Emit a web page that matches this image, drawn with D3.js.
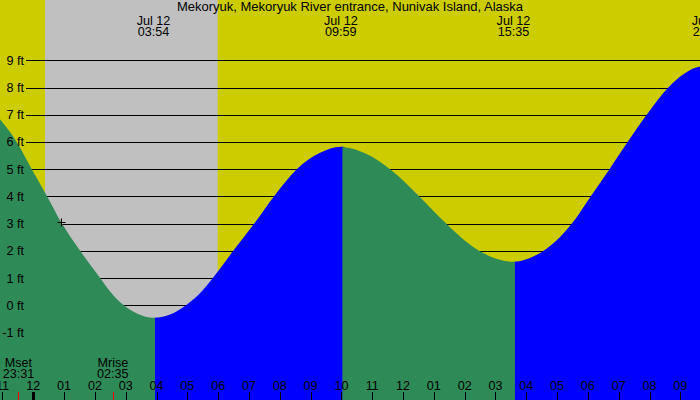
<!DOCTYPE html>
<html>
<head>
<meta charset="utf-8">
<script src="https://cdn.jsdelivr.net/npm/d3@7"></script>
<style>
  body { margin: 0; background: #fff; }
  svg text { font-family: "Liberation Sans", Arial, sans-serif; font-size: 12.6px; fill: #000; }
  svg text.title { font-size: 13px; }
</style>
</head>
<body>
<svg id="chart" width="700" height="400"></svg>
<script>
"use strict";

// tide curve (hours after midnight Jul 12, feet)
const tideHours = [-1.08, -0.54, -0.05, 0.45, 0.93, 1.52, 2.14, 2.5, 2.94, 3.4, 3.90,
  4.42, 4.98, 5.5, 5.79, 6.49, 7.17, 7.81, 8.55, 9.31, 9.98,
  10.8, 11.58, 12.53, 13.40, 14.0, 14.47, 15.0, 15.58,
  16.1, 16.61, 17.09, 17.48, 18.09, 18.70, 19.29, 19.91, 20.61, 21.64, 21.92];
const tideFeet = [6.83, 6.0, 5.0, 4.0, 3.0, 2.0, 1.05, 0.5, 0.0, -0.32, -0.46,
  -0.35, 0.02, 0.55, 0.95, 2.0, 3.0, 4.0, 5.0, 5.6, 5.82,
  5.57, 5.0, 4.0, 3.0, 2.38, 2.0, 1.72, 1.6,
  1.73, 2.04, 2.5, 3.0, 4.0, 5.0, 6.0, 7.0, 8.0, 8.77, 8.8];

// highs and lows
const extremeHours = [3.9, 9.983, 15.583, 21.917];
const extremeTimes = ["03:54", "09:59", "15:35", "21:55"];
const extremeDates = ["Jul 12", "Jul 12", "Jul 12", "Jul 12"];

// night (sunset -> sunrise)
const nightStart = 0.38, nightEnd = 5.985;

// moon
const moonHours = [-0.483, 2.583];
const moonNames = ["Mset", "Mrise"];
const moonTimes = ["23:31", "02:35"];

const feetTicks = [-1, 0, 1, 2, 3, 4, 5, 6, 7, 8, 9];
const hourTicks = d3.range(-1, 22);

// current position marker
const nowHour = 0.9, nowFeet = 3.06;

const title = "Mekoryuk, Mekoryuk River entrance, Nunivak Island, Alaska";

const W = 700, H = 400;
const svg = d3.select("#chart");

const x = d3.scaleLinear().domain([-1.0808, 21.639]).range([0, W]);
const y = d3.scaleLinear().domain([-1, 9]).range([332.5, 60.3]);

// background
svg.append("rect").attr("width", W).attr("height", H).attr("fill", "#cccc00");
svg.append("rect")
  .attr("x", x(nightStart)).attr("y", 0)
  .attr("width", x(nightEnd) - x(nightStart)).attr("height", H)
  .attr("fill", "#c0c0c0");

// grid lines
svg.append("g").selectAll("line")
  .data(feetTicks)
  .enter().append("line")
  .attr("x1", 26).attr("x2", W)
  .attr("y1", d => Math.round(y(d)) + 0.5).attr("y2", d => Math.round(y(d)) + 0.5)
  .attr("stroke", "#000").attr("stroke-width", 1);

// tide fill, green while falling, blue while rising
const pts = tideHours.map((h, i) => [h, tideFeet[i]]);
const area = d3.area()
  .x(d => x(d[0]))
  .y0(H)
  .y1(d => y(d[1]))
  .curve(d3.curveMonotoneX);

const bounds = [x.domain()[0]].concat(extremeHours.slice(0, 3), [x.domain()[1]]);
const defs = svg.append("defs");
bounds.slice(0, -1).forEach((b, i) => {
  defs.append("clipPath").attr("id", "seg" + i)
    .append("rect")
    .attr("x", x(b) + (i ? 1.5 : 0)).attr("y", 0)
    .attr("width", x(bounds[i + 1]) - x(b) + 2).attr("height", H);
  svg.append("path")
    .datum(pts)
    .attr("d", area)
    .attr("clip-path", "url(#seg" + i + ")")
    .attr("fill", i % 2 === 0 ? "#2e8b57" : "#0000ff");
});

// y labels
svg.append("g").selectAll("text")
  .data(feetTicks)
  .enter().append("text")
  .attr("x", 24).attr("y", d => y(d) + 4.5)
  .attr("text-anchor", "end")
  .text(d => d + " ft");

// hour ticks & labels
const fmtHour = h => {
  let v = ((h % 12) + 12) % 12;
  if (v === 0) v = 12;
  return (v < 10 ? "0" : "") + v;
};
svg.append("g").selectAll("line")
  .data(hourTicks)
  .enter().append("line")
  .attr("x1", d => Math.round(x(d)) + 0.5).attr("x2", d => Math.round(x(d)) + 0.5)
  .attr("y1", 392).attr("y2", H)
  .attr("stroke", "#000")
  .attr("stroke-width", d => d === 0 ? 3 : 1);
svg.append("g").selectAll("text")
  .data(hourTicks)
  .enter().append("text")
  .attr("x", d => x(d)).attr("y", 390)
  .attr("text-anchor", "middle")
  .text(fmtHour);

// moon set / rise
svg.append("g").selectAll("line")
  .data(moonHours)
  .enter().append("line")
  .attr("x1", d => Math.round(x(d)) + 0.5).attr("x2", d => Math.round(x(d)) + 0.5)
  .attr("y1", 392).attr("y2", H)
  .attr("stroke", "#ff0000");
const moonG = svg.append("g").selectAll("g")
  .data(moonHours)
  .enter().append("g");
moonG.append("text")
  .attr("x", d => x(d)).attr("y", 366.5)
  .attr("text-anchor", "middle")
  .text((d, i) => moonNames[i]);
moonG.append("text")
  .attr("x", d => x(d)).attr("y", 378)
  .attr("text-anchor", "middle")
  .text((d, i) => moonTimes[i]);

// high / low labels
const extG = svg.append("g").selectAll("g")
  .data(extremeHours)
  .enter().append("g");
extG.append("text")
  .attr("x", d => x(d)).attr("y", 24.5)
  .attr("text-anchor", "middle")
  .text((d, i) => extremeDates[i]);
extG.append("text")
  .attr("x", d => x(d)).attr("y", 36)
  .attr("text-anchor", "middle")
  .text((d, i) => extremeTimes[i]);

// marker
const mx = Math.round(x(nowHour)) + 0.5, my = Math.round(y(nowFeet)) + 0.5;
svg.append("path")
  .attr("d", `M${mx - 4},${my}H${mx + 4}M${mx},${my - 4}V${my + 4}`)
  .attr("stroke", "#000").attr("fill", "none");

// title
svg.append("text")
  .attr("class", "title")
  .attr("x", W / 2).attr("y", 11)
  .attr("text-anchor", "middle")
  .text(title);
</script>
</body>
</html>
